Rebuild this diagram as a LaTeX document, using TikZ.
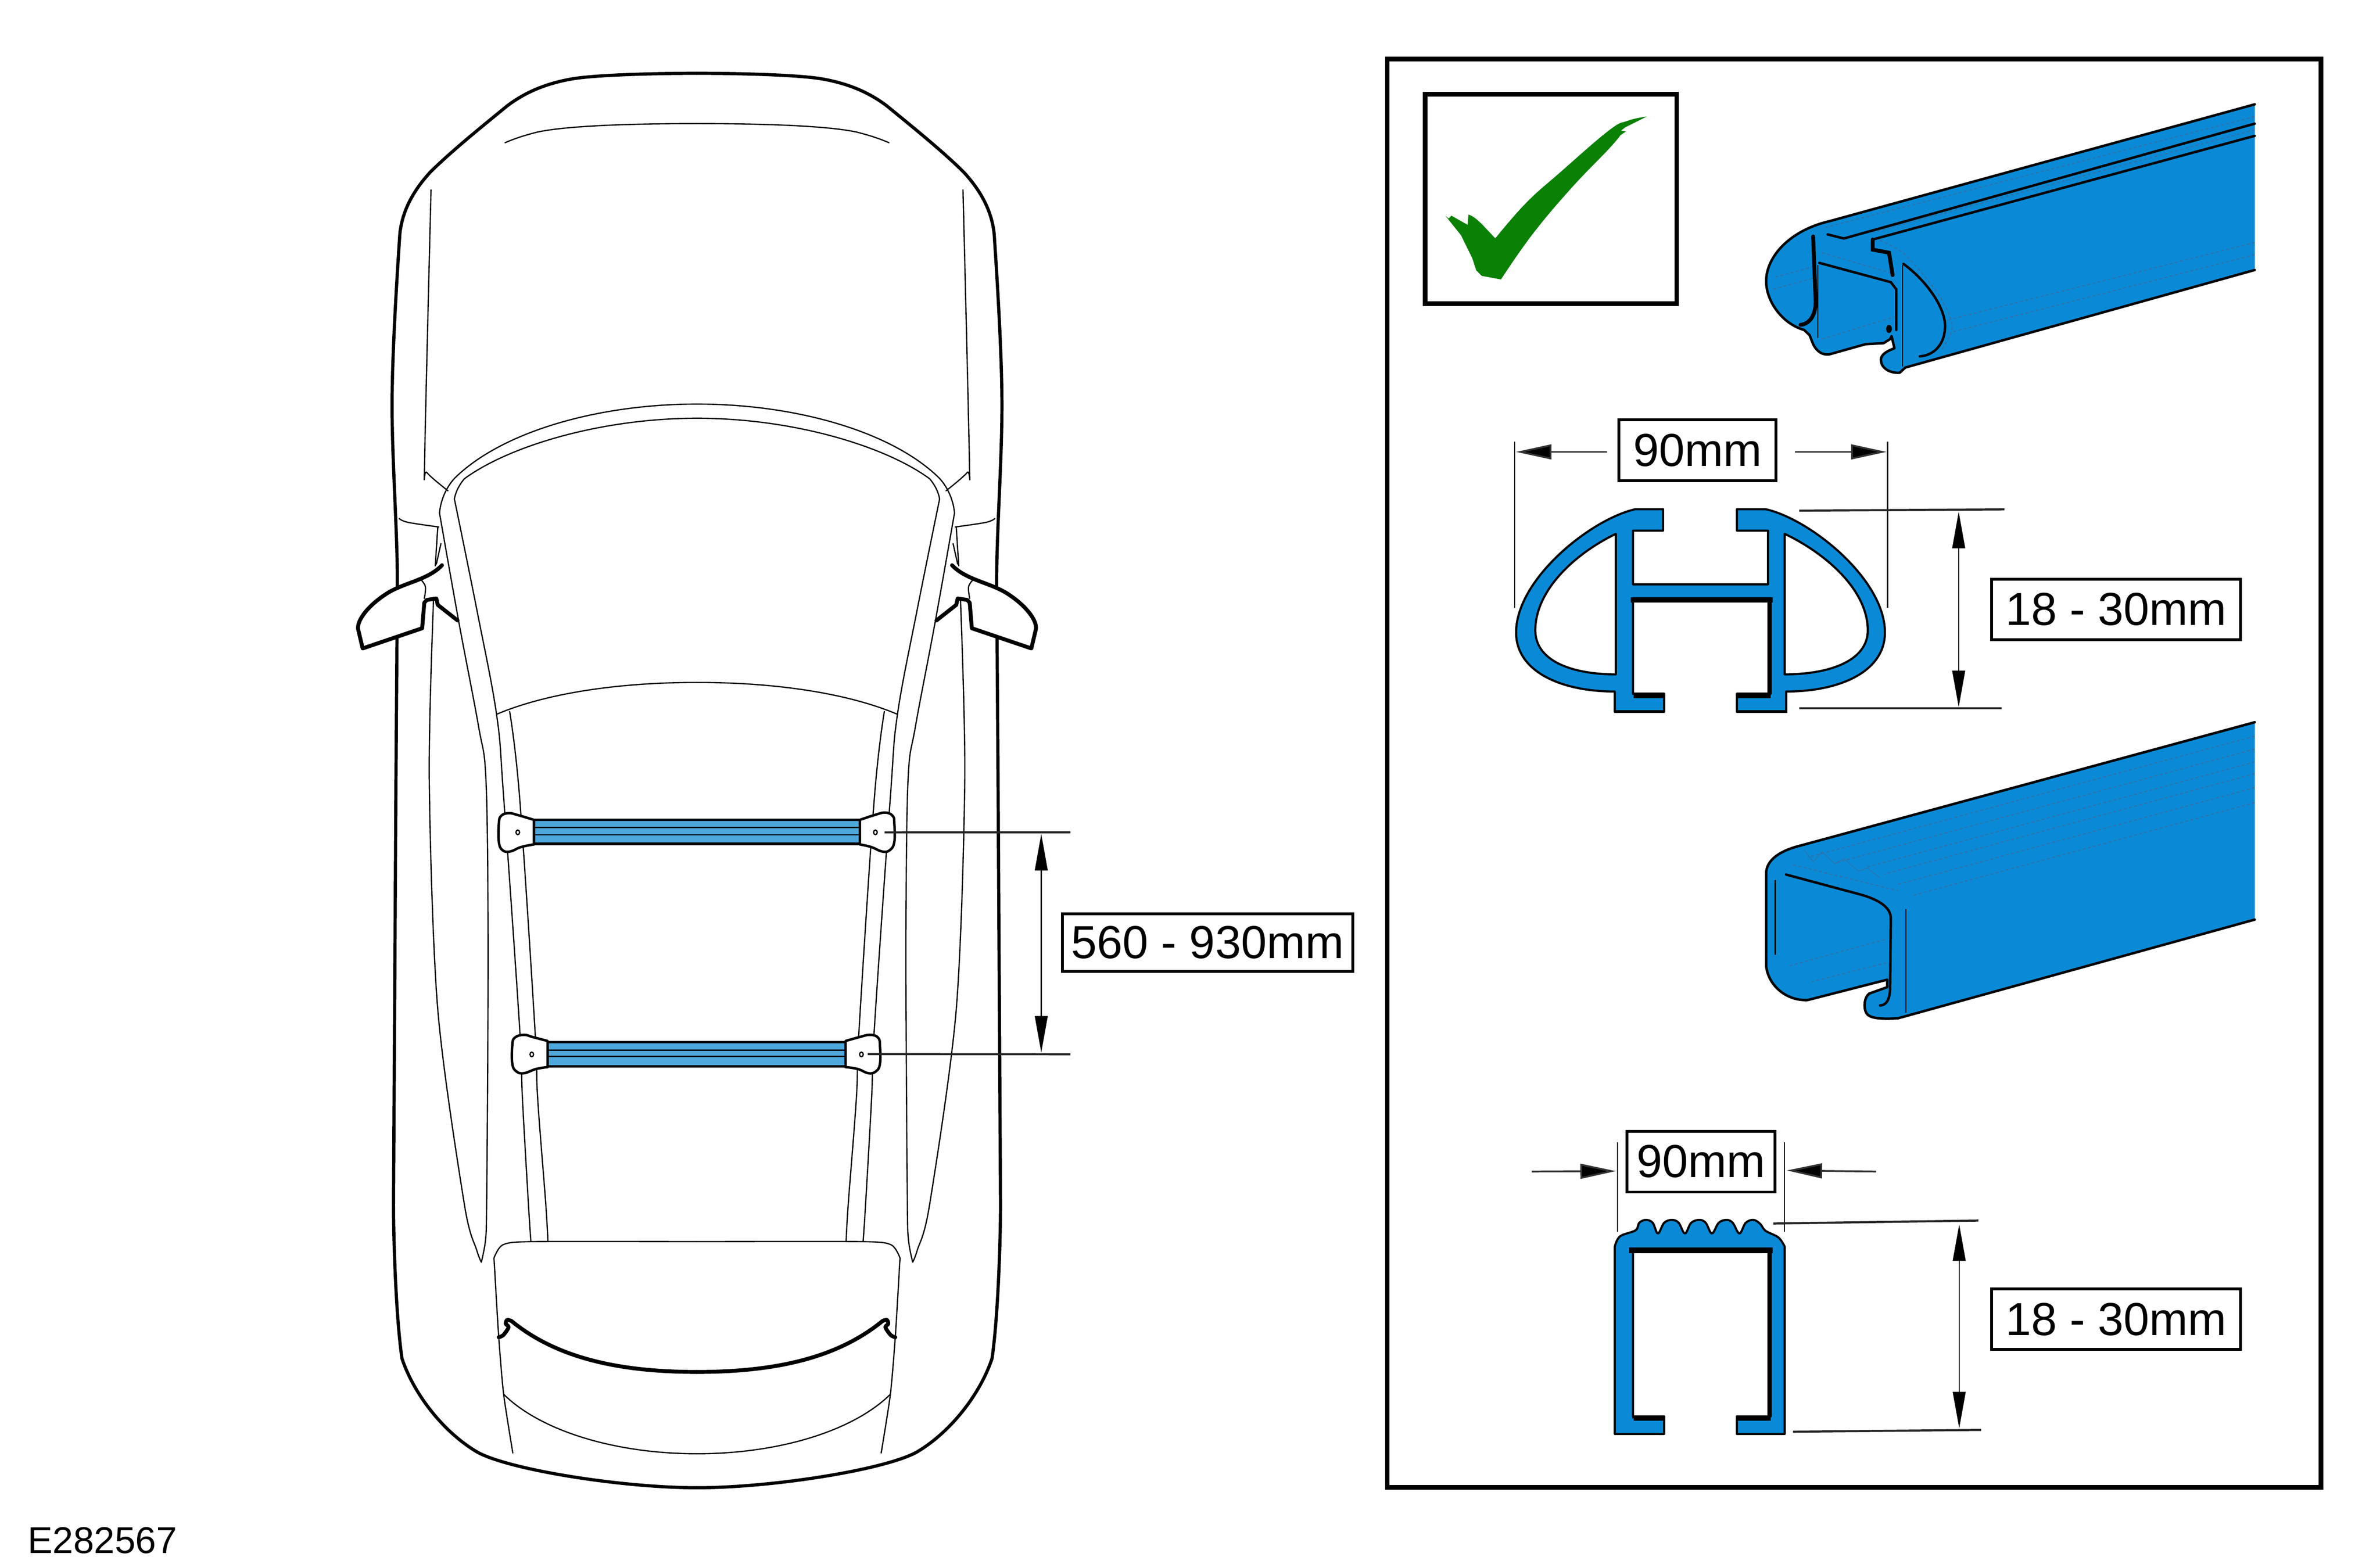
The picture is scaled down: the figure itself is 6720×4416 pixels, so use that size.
\documentclass[tikz,border=0pt]{standalone}
\usepackage{fontspec}
\setmainfont{Liberation Sans}
\usetikzlibrary{arrows.meta}
\definecolor{railblue}{HTML}{0A8AD6}
\definecolor{dashblue}{HTML}{2A72AC}
\definecolor{barblue}{HTML}{4FA8DC}
\definecolor{checkgreen}{HTML}{0A8005}
\tikzset{
  zm/.style n args={4}{shift={(#1*0.005cm,-#2*0.005cm)},x={#3*0.005cm/1568},y={-#4*0.005cm/1568}},
  carline/.style={line width=9*0.005cm,line cap=round,line join=round},
  carthin/.style={line width=3.5*0.005cm,line cap=round,line join=round},
  mirrorline/.style={line width=11*0.005cm,line cap=round,line join=round},
  frameline/.style={line width=13*0.005cm},
  railline/.style={line width=7*0.005cm,line join=round,line cap=round},
  railthick/.style={line width=11*0.005cm,line cap=round},
  railthin/.style={line width=3*0.005cm},
  dashline/.style={draw=dashblue,line width=3.5*0.005cm,dash pattern=on 8*0.005cm off 7*0.005cm},
  profile/.style={line width=6*0.005cm,line join=round,fill=railblue,even odd rule},
  profilethick/.style={line width=15*0.005cm,line cap=butt},
  witness/.style={line width=3*0.005cm},
  extline/.style={line width=6*0.005cm,draw=black!85},
  dimarrow/.style={line width=5*0.005cm,draw=black!80,-{Triangle[length=100*0.005cm,width=42*0.005cm,fill=black]}},
  dimtwo/.style={line width=3.5*0.005cm,{Triangle[length=103*0.005cm,width=36*0.005cm]}-{Triangle[length=103*0.005cm,width=36*0.005cm]}},
  dimbox/.style={draw,line width=8*0.005cm,fill=white,inner sep=0pt,font=\fontsize{18.6}{22}\selectfont},
  footline/.style={line width=7*0.005cm,line join=round,fill=white},
  barline/.style={line width=7*0.005cm},
  barinner/.style={line width=3.5*0.005cm},
}
\newcommand{\carhalf}{%
  % outer body
  \draw[carline] (1968,207) .. controls (2100,207) and (2260,212) .. (2322,223) .. controls (2390,235) and (2450,258) .. (2504,299) .. controls (2560,345) and (2660,425) .. (2722,487) .. controls (2770,540) and (2800,595) .. (2807,660) .. controls (2815,780) and (2829,1000) .. (2829,1145) .. controls (2829,1300) and (2814,1500) .. (2814,1644) -- (2818,2200) -- (2825,3400) .. controls (2825,3500) and (2818,3720) .. (2801,3836) .. controls (2770,3930) and (2690,4040) .. (2589,4100) .. controls (2500,4150) and (2180,4201) .. (1968,4201);
  % top arc and side line
  \draw[carthin] (1968,349) .. controls (2200,349) and (2350,358) .. (2419,373) .. controls (2455,382) and (2485,392) .. (2510,403);
  \draw[carthin] plot[smooth,tension=.5] coordinates {(2719,536)(2737,1298)(2731,1334)(2671,1386)};
  % windscreen arcs and pillars
  \draw[carthin] (1968,1141) .. controls (2250,1141) and (2520,1220) .. (2652,1350) .. controls (2680,1380) and (2693,1420) .. (2695,1449);
  \draw[carthin] plot[smooth,tension=.6] coordinates {(2695,1449)(2640,1759)(2585,2050)(2564,2200)(2558,2600)(2559,3000)(2562,3400)(2565,3500)(2577,3564)};
  \draw[carthin] (1968,1181) .. controls (2240,1181) and (2500,1260) .. (2625,1352) .. controls (2640,1370) and (2650,1390) .. (2653,1409);
  \draw[carthin] plot[smooth,tension=.6] coordinates {(2653,1409)(2590,1720)(2534,2017)(2514,2250)(2469,2900)(2461,3100)(2444,3400)(2437,3506)};
  \draw[carthin] plot[smooth,tension=.6] coordinates {(2497,2009)(2469,2250)(2426,2900)(2418,3100)(2395,3400)(2389,3506)};
  \draw[carthin] (1968,1927) .. controls (2200,1927) and (2400,1960) .. (2534,2017);
  % fender and door lines
  \draw[carthin] plot[smooth,tension=.6] coordinates {(2809,1464)(2784,1475)(2697,1488)};
  \draw[carthin] (2700,1489) -- (2707,1598);
  \draw[carthin] plot[smooth,tension=.6] coordinates {(2691,1535)(2704,1593)};
  \draw[carthin] plot[smooth,tension=.5] coordinates {(2712,1696)(2724,2200)(2700,2850)(2625,3400)(2590,3530)(2577,3564)};
  % mirror
  \fill[white] (2688,1596) -- (2751,1630) -- (2811,1653) -- (2865,1685) -- (2905,1730) -- (2925,1776) -- (2912,1831) -- (2744,1774) -- (2738,1702) -- cycle;
  \draw[carthin] plot[smooth,tension=.6] coordinates {(2751,1633)(2735,1656)(2738,1690)};
  \draw[mirrorline] (2688,1596) .. controls (2730,1640) and (2800,1645) .. (2850,1680) .. controls (2895,1710) and (2928,1750) .. (2925,1776) -- (2912,1831) -- (2744,1774) -- (2738,1702) -- (2731,1694) -- (2704,1690) -- (2700,1708) -- (2644,1752);
  % trunk lid
  \draw[carthin] plot[smooth,tension=.4] coordinates {(1968,3506)(2437,3506)(2516,3515)(2540,3549)(2540,3572)(2528,3773)(2514,3937)(2488,4103)};
  \draw[carthin] (1968,4105) .. controls (2200,4105) and (2410,4040) .. (2514,3937);
  \draw[mirrorline] (1968,3874) .. controls (2200,3874) and (2370,3830) .. (2492,3730);
  \draw[mirrorline] plot[smooth,tension=.5] coordinates {(2492,3730)(2504,3727)(2508,3738)(2500,3748)(2515,3770)(2528,3776)};
}
\begin{document}
\begin{tikzpicture}[x=0.005cm,y=-0.005cm]
\useasboundingbox (0,0) rectangle (6720,4416);
\fill[white] (0,0) rectangle (6720,4416);
% car
\carhalf
\begin{scope}[xshift=3936*0.005cm,xscale=-1]
\carhalf
\end{scope}
% roof bars
\begin{scope}[zm={1350}{2250}{1350}{850}]
  \fill[barblue] (183,120) rectangle (1252,245);
  \draw[barinner] (183,160) -- (1252,160) (183,198) -- (1252,198);
  \draw[barline] (183,120) -- (1252,120) (183,245) -- (1252,245);
  \draw[footline] plot[smooth,tension=.7] coordinates {(183,120)(130,95)(100,85)(75,100)(68,140)(68,235)(80,278)(105,285)(140,262)(183,248)} -- cycle;
  \draw[footline] plot[smooth,tension=.7] coordinates {(1252,120)(1300,95)(1335,82)(1360,100)(1365,140)(1365,235)(1350,278)(1325,285)(1290,262)(1252,248)} -- cycle;
  \draw[line width=3.5*0.005cm] (130,185) ellipse (6 and 12) (1303,185) ellipse (6 and 12);
  \fill[barblue] (228,1278) rectangle (1205,1405);
  \draw[barinner] (228,1320) -- (1205,1320) (228,1353) -- (1205,1353);
  \draw[barline] (228,1278) -- (1205,1278) (228,1405) -- (1205,1405);
  \draw[footline] plot[smooth,tension=.7] coordinates {(228,1272)(180,1252)(150,1240)(120,1255)(112,1295)(112,1390)(125,1430)(150,1440)(190,1418)(228,1408)} -- cycle;
  \draw[footline] plot[smooth,tension=.7] coordinates {(1205,1272)(1250,1252)(1285,1240)(1312,1255)(1318,1300)(1318,1390)(1305,1430)(1280,1440)(1245,1418)(1205,1408)} -- cycle;
  \draw[line width=3.5*0.005cm] (176,1342) ellipse (6 and 12) (1257,1342) ellipse (6 and 12);
  \coordinate (l1s) at (1333,185);
  \coordinate (l2s) at (1278,1340);
\end{scope}
\coordinate (l1e) at (3022,2350);
\coordinate (l2e) at (3022,2977);
\coordinate (d3a) at (2940,2355);
\coordinate (d3b) at (2940,2972);
\draw[extline] (l1s) -- (l1e);
\draw[extline] (l2s) -- (l2e);
\draw[dimtwo] (d3a) -- (d3b);
\node[dimbox,minimum width=819*0.005cm,minimum height=163*0.005cm] (b560) at (3409.5,2661.5) {560 - 930mm};
% frame
\draw[frameline] (3917,167) rectangle (6553,4200);
% check box
\draw[frameline] (4024,266) rectangle (4734,857);
\fill[checkgreen] (4081,609) -- (4090,617) -- (4098,609) -- (4144,635) -- (4146,606) .. controls (4168,612) and (4190,640) .. (4222,673) -- plot[smooth,tension=.7] coordinates {(4222,673)(4309,573)(4406,486)(4542,369)(4596,341)(4650,329)} -- (4588,360) -- (4577,369) -- (4591,371) -- (4575,382) -- plot[smooth,tension=.7] coordinates {(4575,382)(4542,421)(4434,534)(4325,664)(4238,789)} -- (4184,779) -- (4168,763) -- (4157,729) -- (4125,664) -- cycle;
% rail A
\begin{scope}[zm={4900}{220}{1600}{900}]
  \draw[railline,fill=railblue] (1437,130) -- (260,705) .. controls (150,750) and (85,880) .. (85,1000) .. controls (85,1100) and (130,1210) .. (190,1240) -- (205,1265) -- (215,1310) .. controls (225,1345) and (240,1365) .. (260,1360) -- (360,1310) -- (410,1305) -- (428,1285) -- (432,1270) -- (440,1330) .. controls (410,1350) and (400,1370) .. (403,1395) .. controls (405,1430) and (430,1455) .. (455,1450) -- (470,1425) -- (1437,945);
  \draw[dashline] (1437,190) -- (250,735) (1437,255) -- (380,760) (1437,810) -- (590,1190) (1437,870) -- (600,1250);
  \draw[dashline] (105,1040) -- (215,985) (110,980) -- (215,930) (240,860) -- (430,960) (240,1285) -- (440,1175);
  \draw[dashline] plot[smooth] coordinates {(400,800)(470,870)(560,1060)(600,1220)(570,1340)};
  \draw[railline] (1437,225) -- (300,790) -- (255,770);
  \draw[railline] (1437,285) -- (380,795);
  \draw[railthick] (380,795) -- (380,845) -- (425,860) -- (435,970);
  \draw[railthick] (215,780) -- (222,1100) .. controls (222,1170) and (205,1210) .. (180,1215);
  \draw[railline] (232,910) -- (430,1005) -- (445,1040) -- (445,1240);
  \draw[railthin] (228,920) -- (228,1280) (462,920) -- (462,1420);
  \draw[railline] (465,915) .. controls (530,1000) and (580,1130) .. (580,1220) .. controls (580,1310) and (550,1365) .. (510,1370);
  \fill (425,1235) ellipse (8 and 20);
\end{scope}
% rail B
\begin{scope}[zm={4900}{2000}{1600}{950}]
  \draw[railline,fill=railblue] (1437,65) -- (180,640) .. controls (120,665) and (85,710) .. (85,770) -- (85,1200) .. controls (90,1290) and (140,1365) .. (200,1360) -- (420,1265) -- (420,1300) -- (370,1330) .. controls (355,1350) and (355,1400) .. (362,1420) .. controls (370,1445) and (400,1450) .. (450,1445) -- (1437,985);
  \draw[dashline] (1437,130) -- (200,695) (1437,190) -- (280,719) (1437,250) -- (360,742) (1437,305) -- (410,774) (1437,370) -- (450,821) (1437,440) -- (490,873);
  \draw[dashline] (150,1200) -- (420,1075) (210,1275) -- (420,1185) (160,730) -- (450,850);
  \draw[line width=2*0.005cm,draw=dashblue] (190,660) -- (215,715) -- (240,670) -- (275,725) -- (300,700) -- (340,760) -- (365,745) -- (400,790);
  \draw[railline] (140,775) -- (350,870) .. controls (400,895) and (430,930) .. (430,980) -- (428,1300) .. controls (428,1350) and (420,1385) .. (400,1385);
  \draw[railthin] (110,800) -- (110,1150) (472,935) -- (472,1420);
\end{scope}
% section 1
\begin{scope}[zm={4200}{1150}{2300}{950}]
  \draw[profile] (338,475) -- (338,575) -- (280,575) -- (280,825) -- (540,825) -- (540,575) -- (480,575) -- (480,475) -- (535,475) .. controls (620,520) and (765,800) .. (765,1050) .. controls (765,1230) and (680,1325) .. (575,1325) -- (575,1420) -- (480,1420) -- (480,1335) -- (545,1335) -- (545,890) -- (280,890) -- (280,1335) -- (340,1335) -- (340,1420) -- (245,1420) -- (245,1325) .. controls (140,1325) and (55,1230) .. (55,1050) .. controls (55,800) and (200,520) .. (285,475) -- cycle
    (247,590) -- (247,1245) .. controls (160,1245) and (92,1180) .. (92,1040) .. controls (92,850) and (170,680) .. (247,590) -- cycle
    (572,590) -- (572,1245) .. controls (660,1245) and (732,1180) .. (732,1040) .. controls (732,850) and (650,680) .. (572,590) -- cycle;
  \draw[profilethick] (276,898) -- (549,898) (281,1343) -- (340,1343) (480,1343) -- (545,1343);
  \draw[line width=10*0.005cm] (542,890) -- (542,1340);
  \draw[line width=5*0.005cm] (280,890) -- (280,1340);
  \draw[line width=8*0.005cm,line cap=butt] (245,1418) -- (340,1418) (480,1418) -- (577,1418);
  \coordinate (w1a) at (52,160); \coordinate (w1b) at (52,935);
  \coordinate (w2a) at (770,160); \coordinate (w2b) at (770,935);
  \coordinate (a1s) at (230,208); \coordinate (a1e) at (55,208);
  \coordinate (a2s) at (592,208); \coordinate (a2e) at (768,208);
  \coordinate (e1a) at (600,482); \coordinate (e1b) at (995,476);
  \coordinate (e2a) at (600,1403); \coordinate (e2b) at (990,1403);
  \coordinate (v1a) at (907,487); \coordinate (v1b) at (907,1398);
\end{scope}
\draw[witness] (w1a) -- (w1b);
\draw[witness] (w2a) -- (w2b);
\draw[dimarrow] (a1s) -- (a1e);
\draw[dimarrow] (a2s) -- (a2e);
\draw[extline] (e1a) -- (e1b);
\draw[extline] (e2a) -- (e2b);
\draw[dimtwo] (v1a) -- (v1b);
\node[dimbox,minimum width=444*0.005cm,minimum height=172*0.005cm] (b90a) at (4793,1272) {90mm};
\node[dimbox,minimum width=703*0.005cm,minimum height=171*0.005cm] (b18a) at (5974.5,1721) {18 - 30mm};
% section 2
\begin{scope}[zm={4200}{3150}{2300}{1000}]
  \draw[profile] (245,1410) -- (245,580) -- plot[smooth,tension=.6] coordinates {(245,580)(255,535)(285,508)(292,475)(305,462)(318,475)(328,522)(340,475)(355,462)(368,475)(380,522)(392,475)(408,462)(420,475)(432,522)(445,475)(460,462)(472,475)(485,522)(497,475)(512,462)(525,480)(535,510)(560,540)(572,580)} -- (572,1410) -- (480,1410) -- (480,1332) -- (545,1332) -- (545,590) -- (280,590) -- (280,1332) -- (340,1332) -- (340,1410) -- cycle;
  \draw[profilethick] (272,597) -- (549,597) (281,1340) -- (340,1340) (480,1340) -- (545,1340);
  \draw[line width=10*0.005cm] (542,590) -- (542,1340);
  \draw[line width=5*0.005cm] (280,590) -- (280,1340);
  \coordinate (w3a) at (250,118); \coordinate (w3b) at (250,515);
  \coordinate (w4a) at (572,118); \coordinate (w4b) at (572,515);
  \coordinate (a3s) at (85,248); \coordinate (a3e) at (247,246);
  \coordinate (a4s) at (748,248); \coordinate (a4e) at (576,243);
  \coordinate (e3a) at (550,478); \coordinate (e3b) at (945,465);
  \coordinate (e4a) at (588,1400); \coordinate (e4b) at (950,1392);
  \coordinate (v2a) at (908,482); \coordinate (v2b) at (908,1385);
\end{scope}
\draw[witness] (w3a) -- (w3b);
\draw[witness] (w4a) -- (w4b);
\draw[dimarrow] (a3s) -- (a3e);
\draw[dimarrow] (a4s) -- (a4e);
\draw[extline] (e3a) -- (e3b);
\draw[extline] (e4a) -- (e4b);
\draw[dimtwo] (v2a) -- (v2b);
\node[dimbox,minimum width=418*0.005cm,minimum height=172*0.005cm] (b90b) at (4803,3280) {90mm};
\node[dimbox,minimum width=703*0.005cm,minimum height=171*0.005cm] (b18b) at (5974.5,3725) {18 - 30mm};
% code
\node[anchor=west,inner sep=0pt,font=\fontsize{15}{18}\selectfont] (code) at (77,4350) {E282567};
\end{tikzpicture}
\end{document}
